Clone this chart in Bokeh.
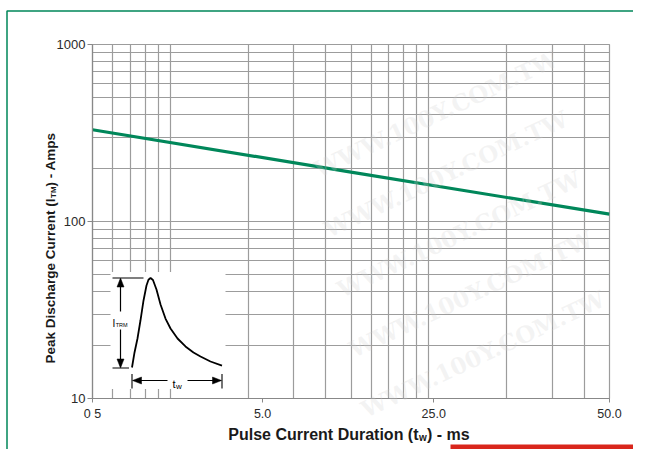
import numpy as np
from bokeh.plotting import figure
from bokeh.models import Range1d, LinearScale, FixedTicker, CustomJSTickFormatter
from bokeh.core.properties import value
from bokeh.embed import file_html
from bokeh.resources import INLINE

# ---------------- data ----------------
pulse_ms = [0.5, 5, 50]           # pulse current duration (grid units)
peak_amps = [330, 190, 110]       # peak discharge current

x_tick_labels = ["0 5", "5.0", "25.0", "50.0"]
y_tick_values = [10, 100, 1000]
y_tick_labels = ["10", "100", "1000"]

x_title = ["Pulse Current Duration (t", "w", ") - ms"]
y_title = ["Peak Discharge Current (I", "TM", ") - Amps"]

# inset pulse shape (normalised time / current)
pulse_t = [0, 0.028, 0.061, 0.094, 0.128, 0.161, 0.183, 0.206, 0.233, 0.272,
           0.317, 0.372, 0.428, 0.506, 0.594, 0.683, 0.761, 0.872, 1.0]
pulse_i = [0, 0.168, 0.324, 0.525, 0.749, 0.916, 0.98, 1.0, 0.978, 0.872,
           0.704, 0.547, 0.436, 0.324, 0.235, 0.168, 0.123, 0.067, 0.022]

watermark = "WWW.100Y.COM.TW"

# ---------------- layout constants ----------------
X0, X1 = 0.5, 50.0
Y0, Y1 = 10, 1000
x_tick_frac = [0.0, 0.329, 0.66, 1.0]
x_tick_pos = [X0 * (X1 / X0) ** f for f in x_tick_frac]
grid_mult = [1, 1.2, 1.4, 1.6, 1.8, 2, 4, 6, 8]
x_grid = [X0 * 10 ** d * m for d in range(2) for m in grid_mult] + [X1]
y_grid = [10 ** d * m for d in (1, 2) for m in range(1, 10)] + [Y1]

GREEN = "#00875a"
GRID = "#9c9c9c"
FONT = "Liberation Sans"

# frame occupies canvas x 92..609, y 44..398
p = figure(width=633, height=449, x_axis_type="log", y_axis_type="log",
           x_range=(X0, X1), y_range=(Y0, Y1),
           output_backend="svg", toolbar_location=None,
           min_border_left=92, min_border_right=24,
           min_border_top=44, min_border_bottom=51)
p.background_fill_color = "white"
p.border_fill_color = "white"
p.outline_line_color = GRID
p.outline_line_width = 1.2

# canvas-pixel helper ranges for the drawing decorations
p.extra_x_ranges = {"px": Range1d(92, 609)}
p.extra_y_ranges = {"px": Range1d(398, 44)}
p.extra_x_scales = {"px": LinearScale()}
p.extra_y_scales = {"px": LinearScale()}
PX = dict(x_range_name="px", y_range_name="px")

# grid
p.xgrid.ticker = FixedTicker(ticks=x_grid)
p.ygrid.ticker = FixedTicker(ticks=y_grid)
for g in (p.xgrid, p.ygrid):
    g.grid_line_color = GRID
    g.grid_line_width = 1.2
    g.grid_line_alpha = 1.0

# axes
p.xaxis.ticker = FixedTicker(ticks=x_tick_pos)
p.xaxis.formatter = CustomJSTickFormatter(args=dict(labels=x_tick_labels),
                                          code="return labels[index]")
p.yaxis.ticker = FixedTicker(ticks=y_tick_values)
p.yaxis.formatter = CustomJSTickFormatter(args=dict(labels=y_tick_labels),
                                          code="return labels[index]")
for ax in (p.xaxis, p.yaxis):
    ax.axis_line_color = "#888888"
    ax.axis_line_width = 1.2
    ax.major_tick_line_color = "#888888"
    ax.major_tick_in = 0
    ax.minor_tick_line_color = None
    ax.major_label_text_color = "#2a2a2a"
    ax.major_label_text_font = FONT
p.xaxis.major_tick_out = 4
p.xaxis.major_label_standoff = 4
p.xaxis.major_label_text_font_size = "12.5px"
p.yaxis.major_tick_out = 5
p.yaxis.major_label_standoff = 2
p.yaxis.major_label_text_font_size = "13px"

# data line
p.line(pulse_ms, peak_amps, line_color=GREEN, line_width=3.2)

# ---------------- inset pulse diagram ----------------
p.quad(left=[110], right=[225], top=[271.5], bottom=[388.5],
       fill_color="white", line_color=None, **PX)
cx = [131.5 + t * 90 for t in pulse_t]
cy = [367 - v * 89.5 for v in pulse_i]
p.line(cx, cy, line_color="black", line_width=1.8, **PX)
p.segment(x0=[112, 112], y0=[277.5, 367.5], x1=[143, 128.5], y1=[277.5, 367.5],
          line_color="black", line_width=1.1, **PX)
p.segment(x0=[120], y0=[279], x1=[120], y1=[366], line_color="black", line_width=1.2, **PX)
p.patches(xs=[[120, 116.5, 123.5], [120, 116.5, 123.5]],
          ys=[[277.5, 286.5, 286.5], [367.5, 358.5, 358.5]],
          fill_color="black", line_color="black", line_width=0.5, **PX)
p.segment(x0=[133], y0=[380], x1=[220], y1=[380], line_color="black", line_width=1.2, **PX)
p.segment(x0=[131.5, 221.5], y0=[373.5, 373.5], x1=[131.5, 221.5], y1=[388, 388],
          line_color="black", line_width=1.1, **PX)
p.patches(xs=[[132, 141, 141], [221, 212, 212]],
          ys=[[380, 376.5, 383.5], [380, 376.5, 383.5]],
          fill_color="black", line_color="black", line_width=0.5, **PX)
p.quad(left=[112, 167], right=[128, 187], top=[311, 373.5], bottom=[329, 386.5],
       fill_color="white", line_color=None, **PX)
p.text(x=[112], y=[322.5], text=["I"], text_font=value(FONT), text_font_size="10px",
       text_baseline="alphabetic", text_color="black", **PX)
p.text(x=[115.2], y=[324.5], text=["TRM"], text_font=value(FONT), text_font_size="5.5px",
       text_baseline="alphabetic", text_color="black", **PX)
p.text(x=[172], y=[383.5], text=["t"], text_font=value(FONT), text_font_size="11px",
       text_baseline="alphabetic", text_color="black", **PX)
p.text(x=[175.5], y=[385.5], text=["w"], text_font=value(FONT), text_font_size="8px",
       text_baseline="alphabetic", text_color="black", **PX)

# ---------------- axis titles ----------------
TT = dict(text_font=value(FONT), text_font_style="bold", text_color="#1a1a1a",
          level="overlay", **PX)
xa = 418.0
p.text(x=[xa], y=[434], text=[x_title[0]], text_align="right",
       text_baseline="alphabetic", text_font_size="16px", **TT)
p.text(x=[xa + 0.5], y=[437], text=[x_title[1]], text_align="left",
       text_baseline="alphabetic", text_font_size="10px", **TT)
p.text(x=[xa + 8.5], y=[434], text=[x_title[2]], text_align="left",
       text_baseline="alphabetic", text_font_size="16px", **TT)

ya = 198.0
p.text(x=[50], y=[ya], text=[y_title[0]], angle=np.pi / 2, text_align="right",
       text_baseline="alphabetic", text_font_size="13.5px", **TT)
p.text(x=[52.5], y=[ya - 0.5], text=[y_title[1]], angle=np.pi / 2, text_align="left",
       text_baseline="alphabetic", text_font_size="8px", **TT)
p.text(x=[50], y=[ya - 12], text=[y_title[2]], angle=np.pi / 2, text_align="left",
       text_baseline="alphabetic", text_font_size="13.5px", **TT)

# ---------------- page decorations ----------------
wm_x = [315, 325, 338, 350, 362]
wm_y = [170, 230, 290, 350, 410]
p.text(x=wm_x, y=wm_y, text=[watermark] * len(wm_x), angle=0.44,
       text_font=value("DejaVu Serif"), text_font_style="bold", text_font_size="23px",
       text_color="#cfcfcf", text_alpha=0.25, text_baseline="alphabetic",
       level="overlay", **PX)

p.line(x=[6.5, 6.5, 700], y=[600, 10.5, 10.5], line_color=GREEN, line_width=1.5,
       level="overlay", **PX)
p.quad(left=[450], right=[700], top=[444], bottom=[600], fill_color="#d9261c",
       line_color=None, level="overlay", **PX)

open("out.html", "w").write(file_html(p, INLINE))
